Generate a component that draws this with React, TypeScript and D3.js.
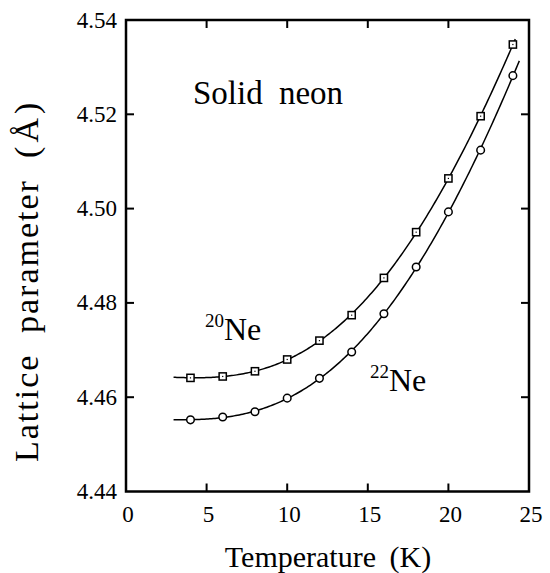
import React from "react";
import * as d3 from "d3";

const temps = [4, 6, 8, 10, 12, 14, 16, 18, 20, 22, 24];
const ne20 = [4.4641, 4.4644, 4.4655, 4.468, 4.472, 4.4774, 4.4853, 4.495, 4.5064, 4.5196, 4.5348];
const ne22 = [4.4552, 4.4558, 4.4569, 4.4598, 4.464, 4.4696, 4.4777, 4.4876, 4.4993, 4.5124, 4.5282];
const xTicks = [0, 5, 10, 15, 20, 25];
const yTicks = [4.44, 4.46, 4.48, 4.5, 4.52, 4.54];
const fitRange20 = [2.95, 24.15];
const fitRange22 = [2.95, 24.4];

const W = 550, H = 573;
const M = { left: 126, right: 529, top: 20, bottom: 491.5 };
const FONT = "Liberation Serif";

// least squares fit with basis [1, t^2, t^3, t^4]
function fit(xs: number[], ys: number[]) {
  const basis = (T: number) => { const t = T / 10; return [1, t * t, t * t * t, t * t * t * t]; };
  const n = 4;
  const A = Array.from({ length: n }, () => new Array(n + 1).fill(0));
  xs.forEach((x, k) => {
    const b = basis(x);
    for (let i = 0; i < n; i++) {
      for (let j = 0; j < n; j++) A[i][j] += b[i] * b[j];
      A[i][n] += b[i] * ys[k];
    }
  });
  for (let i = 0; i < n; i++) {
    let p = i;
    for (let r = i + 1; r < n; r++) if (Math.abs(A[r][i]) > Math.abs(A[p][i])) p = r;
    [A[i], A[p]] = [A[p], A[i]];
    for (let r = 0; r < n; r++) {
      if (r === i) continue;
      const f = A[r][i] / A[i][i];
      for (let c = i; c <= n; c++) A[r][c] -= f * A[i][c];
    }
  }
  const coef = A.map((row, i) => row[n] / row[i]);
  return (T: number) => basis(T).reduce((s, b, i) => s + b * coef[i], 0);
}

const ts = { fontFamily: FONT, fill: "#000" };

export default function App() {
  const x = d3.scaleLinear().domain([0, 25]).range([M.left, M.right]);
  const y = d3.scaleLinear().domain([4.44, 4.54]).range([M.bottom, M.top]);
  const f20 = fit(temps, ne20);
  const f22 = fit(temps, ne22);
  const line = d3.line<[number, number]>().x((d) => x(d[0])).y((d) => y(d[1]));
  const pts = (f: (t: number) => number, r: number[]) =>
    d3.range(0, 201).map((i) => { const t = r[0] + ((r[1] - r[0]) * i) / 200; return [t, f(t)] as [number, number]; });
  const tickLen = 8;
  return (
    <svg width={W} height={H} style={{ position: "absolute", left: 0, top: 0, background: "#fff" }}>
      <rect width={W} height={H} fill="#fff" />
      {/* fit curves */}
      <path d={line(pts(f20, fitRange20)) || ""} fill="none" stroke="#000" strokeWidth={1.5} />
      <path d={line(pts(f22, fitRange22)) || ""} fill="none" stroke="#000" strokeWidth={1.5} />
      {/* markers */}
      {temps.map((t, i) => (
        <g key={"s" + i}>
          <rect x={x(t) - 3.6} y={y(ne20[i]) - 3.6} width={7.2} height={7.2} fill="#fff" stroke="#000" strokeWidth={1.5} />
          <rect x={x(t) - 0.6} y={y(ne20[i]) - 0.6} width={1.2} height={1.2} fill="#000" />
        </g>
      ))}
      {temps.map((t, i) => (
        <circle key={"c" + i} cx={x(t)} cy={y(ne22[i])} r={3.8} fill="#fff" stroke="#000" strokeWidth={1.5} />
      ))}
      {/* frame */}
      <rect x={M.left} y={M.top} width={M.right - M.left} height={M.bottom - M.top} fill="none" stroke="#000" strokeWidth={2.5} />
      {/* ticks */}
      {xTicks.slice(1, -1).map((t) => (
        <g key={"xt" + t}>
          <line x1={x(t)} x2={x(t)} y1={M.bottom} y2={M.bottom - tickLen} stroke="#000" strokeWidth={2} />
          <line x1={x(t)} x2={x(t)} y1={M.top} y2={M.top + tickLen} stroke="#000" strokeWidth={2} />
        </g>
      ))}
      {yTicks.slice(1, -1).map((t) => (
        <g key={"yt" + t}>
          <line x1={M.left} x2={M.left + tickLen} y1={y(t)} y2={y(t)} stroke="#000" strokeWidth={2} />
          <line x1={M.right} x2={M.right - tickLen} y1={y(t)} y2={y(t)} stroke="#000" strokeWidth={2} />
        </g>
      ))}
      {/* tick labels */}
      {xTicks.map((t) => (
        <text key={"xl" + t} x={x(t) + 2} y={521.5} textAnchor="middle" fontSize={23} style={ts}>{t}</text>
      ))}
      {yTicks.map((t) => (
        <text key={"yl" + t} x={117} y={y(t) + 7.5} textAnchor="end" fontSize={23} style={ts}>{d3.format(".2f")(t)}</text>
      ))}
      {/* axis titles */}
      <text x={328} y={567} textAnchor="middle" fontSize={30} wordSpacing={6} style={ts}>Temperature (K)</text>
      <g transform="translate(38,0) rotate(-90)" fontSize={34} style={ts}>
        <text x={-462} y={0} letterSpacing={2} style={ts}>Lattice</text>
        <text x={-333} y={0} letterSpacing={2} style={ts}>parameter</text>
        <text x={-158} y={0} style={ts}>(</text>
        <text x={-142.5} y={0} style={ts}>Å</text>
        <text x={-114} y={0} style={ts}>)</text>
      </g>
      {/* annotations */}
      <text x={193} y={104} fontSize={33} wordSpacing={8} style={ts}>Solid neon</text>
      <text x={205} y={340} fontSize={32} style={ts}>
        <tspan fontSize={19} dy={-13}>20</tspan>
        <tspan dy={13}>Ne</tspan>
      </text>
      <text x={370} y={390.5} fontSize={32} style={ts}>
        <tspan fontSize={19} dy={-13}>22</tspan>
        <tspan dy={13}>Ne</tspan>
      </text>
    </svg>
  );
}
